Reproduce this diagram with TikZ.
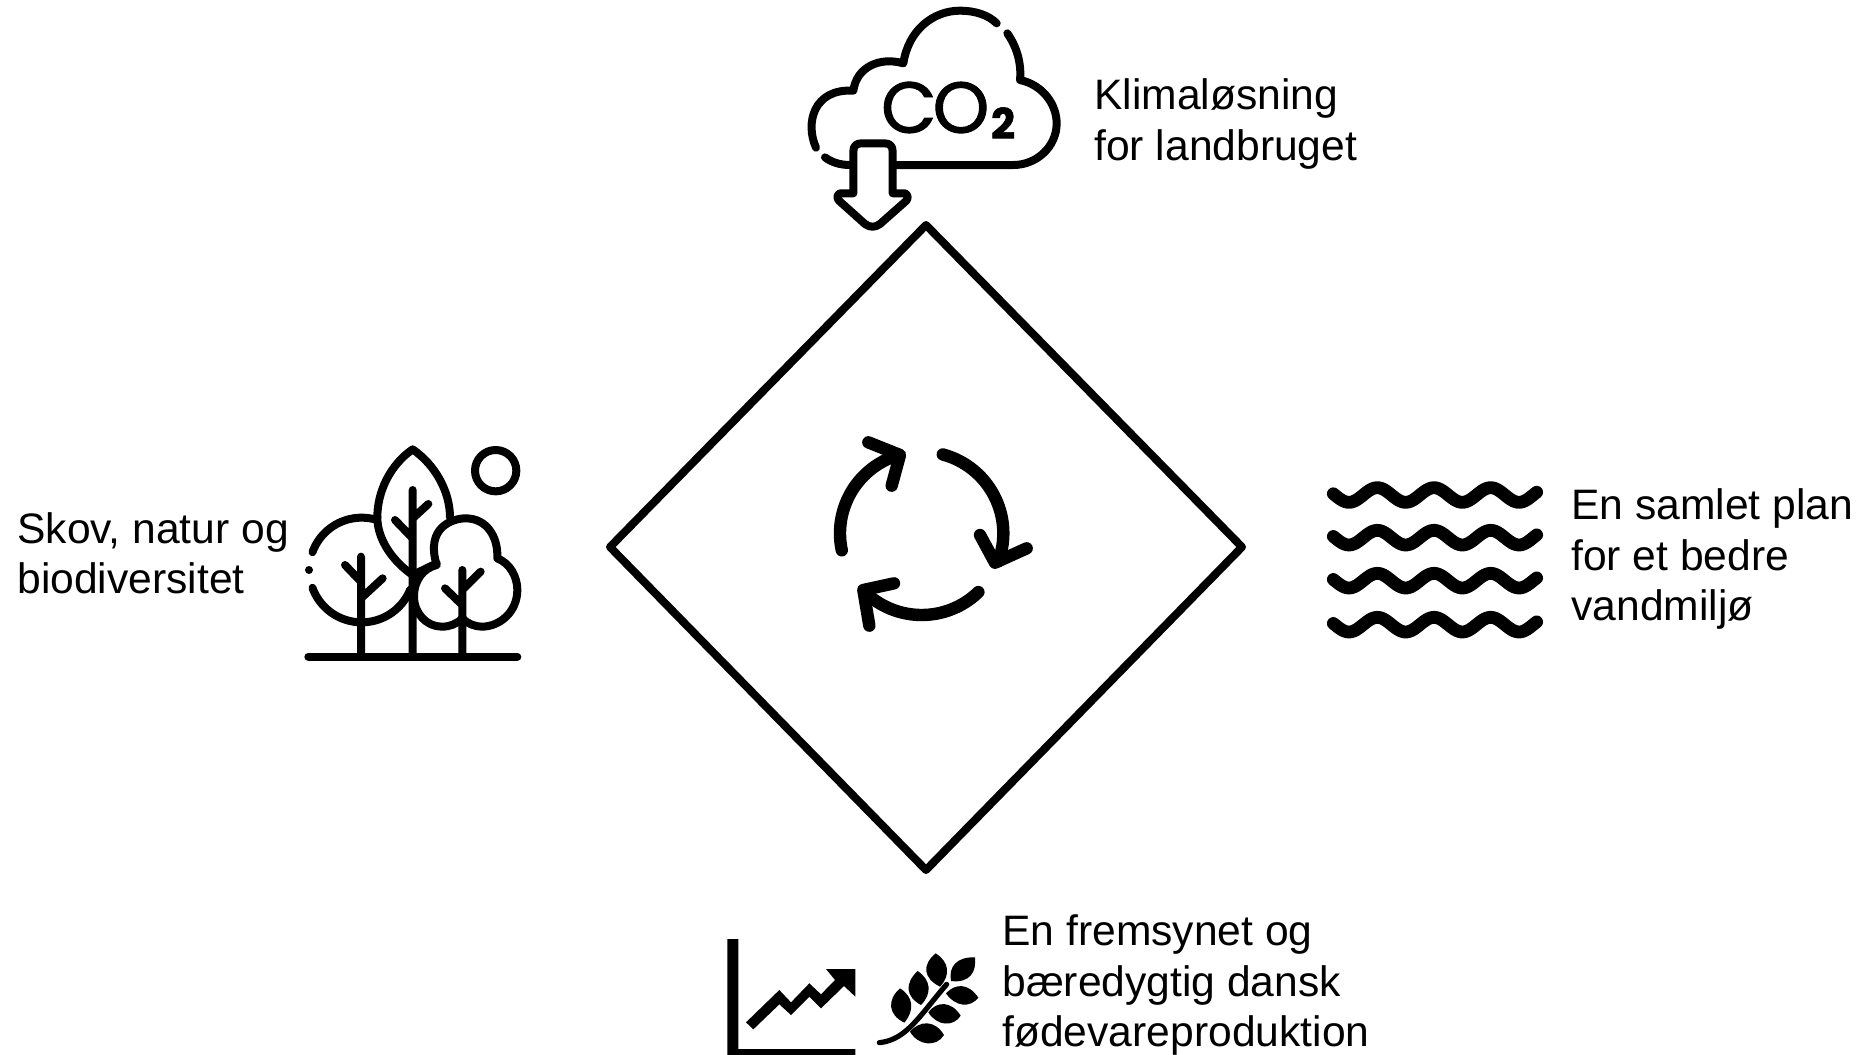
\documentclass[tikz,border=0pt]{standalone}
\usepackage{fontspec}
\setmainfont{Liberation Sans}
\newfontfamily\iconfont[FakeBold=1.3]{Poppins}
\begin{document}
\begin{tikzpicture}[x=0.5pt,y=-0.5pt,
  lbl/.style={anchor=west,align=left,inner sep=0pt,font=\fontsize{21.3}{25.1}\selectfont,text=black},
  icon/.style={line width=4pt,line cap=round,line join=round,black},
  thick icon/.style={line width=6.2pt,line cap=round,line join=round,black},
  wave/.style={line width=6.4pt,line cap=round,line join=round,black},
  leafy/.style={fill=black,draw=none}]
\useasboundingbox (0,0) rectangle (1859,1055);
% diamond
\coordinate (dt) at (926,225);
\coordinate (dr) at (1242,547);
\coordinate (db) at (926,870);
\coordinate (dl) at (610,547);
\draw[line width=4pt,line join=round,black] (dt)--(dr)--(db)--(dl)--cycle;
% labels
\node[lbl] (klima) at (1094,124) {Klimaløsning\\for landbruget};
\node[lbl] (skov) at (17,553) {Skov, natur og\\biodiversitet};
\node[lbl] (vand) at (1571,559) {En samlet plan\\for et bedre\\vandmiljø};
\node[lbl] (foed) at (1002,985) {En fremsynet og\\bæredygtig dansk\\fødevareproduktion};
% cloud icon
\begin{scope}[shift={(780,0)},scale=0.33333]
\draw[icon]
  (108,443) .. controls (75,370) and (100,265) .. (220,272)
  .. controls (230,200) and (300,170) .. (370,190)
  .. controls (385,90) and (460,32) .. (540,32)
  .. controls (585,32) and (625,45) .. (650,70);
\draw[icon]
  (682,100) .. controls (710,140) and (725,190) .. (720,240)
  .. controls (790,255) and (830,315) .. (830,370)
  .. controls (830,440) and (770,495) .. (700,495) -- (345,495);
\draw[icon]
  (210,495) .. controls (180,495) and (155,487) .. (135,472);
\draw[icon]
  (220,580) -- (220,455) .. controls (220,438) and (228,430) .. (245,430)
  -- (313,430) .. controls (330,430) and (338,438) .. (338,455) -- (338,580)
  -- (375,580) .. controls (385,585) and (385,595) .. (378,603)
  -- (300,672) .. controls (285,683) and (270,683) .. (255,672)
  -- (178,603) .. controls (170,595) and (170,585) .. (180,580) -- cycle;
\node[inner sep=0pt,anchor=base west,font=\iconfont\fontsize{36}{36}\selectfont] (co) at (302,398) {C\kern-2pt O};
\node[inner sep=0pt,anchor=base west,font=\iconfont\bfseries\fontsize{21}{21}\selectfont] (two) at (632,416) {2};
\end{scope}
% trees
\begin{scope}[shift={(290,430)},scale=0.33333,samples=40]
\draw[icon] (55,680) -- (682,680);
\draw[icon] (213,380) -- (213,680) (165,405) -- (213,455) (278,445) -- (213,505);
\draw[icon] (368,180) -- (368,680) (315,270) -- (368,325) (415,222) -- (368,265);
\draw[icon] (517,420) -- (517,680) (465,475) -- (517,525) (572,425) -- (517,480);
\draw[icon,domain=160:73] plot ({215+157*cos(\x)},{420-157*sin(\x)});
\draw[icon,domain=200:338] plot ({215+157*cos(\x)},{420-157*sin(\x)});
\draw[icon] (262,262) .. controls (262,185) and (300,105) .. (368,58)
  .. controls (436,105) and (480,185) .. (480,262);
\draw[icon] (262,262) .. controls (262,330) and (310,395) .. (368,435) -- (440,400);
\draw[icon] (440,405) .. controls (405,290) and (490,265) .. (527,265)
  .. controls (590,265) and (625,320) .. (622,385)
  .. controls (660,400) and (682,440) .. (682,480)
  .. controls (682,545) and (630,590) .. (575,590)
  .. controls (555,590) and (530,580) .. (517,565)
  .. controls (500,582) and (480,590) .. (455,590)
  .. controls (410,590) and (372,550) .. (372,500)
  .. controls (372,450) and (400,415) .. (440,405);
\draw[icon] (617,122) circle[radius=62];
\fill[black] (57,420) circle[radius=12];
\end{scope}
% cycle
\begin{scope}[shift={(820,420)},scale=0.33333,samples=40]
\draw[thick icon,domain=192:106] plot ({305+245*cos(\x)},{340-245*sin(\x)});
\draw[thick icon] (145,67) -- (240,105) -- (215,197);
\draw[thick icon,domain=75:-20] plot ({305+245*cos(\x)},{340-245*sin(\x)});
\draw[thick icon] (480,345) -- (525,428) -- (620,385);
\draw[thick icon,domain=-46:-135] plot ({305+245*cos(\x)},{340-245*sin(\x)});
\draw[thick icon] (222,490) -- (130,510) -- (148,617);
\end{scope}
% waves
\begin{scope}[shift={(1320,470)},scale=0.33333,samples=90]
\foreach \yc in {75,203,332,464}{
  \draw[wave,domain=40:650] plot (\x,{\yc+22*cos(2.1176*(\x-87))});
}
\end{scope}
% chart and wheat
\begin{scope}[shift={(720,925)},scale=0.33333]
\fill[black] (22,42) -- (55,42) -- (55,372) -- (406,372) -- (406,390) -- (22,390) -- cycle;
\fill[black] (78,292) -- (178,195) -- (213,232) -- (268,175) -- (303,208) -- (345,165)
  -- (318,132) -- (406,132) -- (406,215) -- (372,183) -- (303,250) -- (268,215)
  -- (213,270) -- (178,238) -- (100,313) -- cycle;
\fill[leafy] (540,190) .. controls (500,225) and (505,270) .. (553,293) .. controls (585,255) and (580,215) .. (540,190);
\fill[leafy] (593,138) .. controls (553,175) and (557,215) .. (603,240) .. controls (637,205) and (633,165) .. (593,138);
\fill[leafy] (647,85) .. controls (605,120) and (610,160) .. (660,185) .. controls (693,150) and (687,110) .. (647,85);
\fill[leafy] (765,97) .. controls (710,95) and (685,125) .. (693,168) .. controls (750,175) and (770,140) .. (765,97);
\fill[leafy] (775,218) .. controls (745,173) and (705,175) .. (678,205) .. controls (705,245) and (750,250) .. (775,218);
\fill[leafy] (722,272) .. controls (695,228) and (650,227) .. (625,262) .. controls (650,303) and (700,307) .. (722,272);
\fill[leafy] (672,330) .. controls (645,285) and (600,285) .. (570,320) .. controls (595,363) and (650,367) .. (672,330);
\draw[line width=2.6pt,line cap=round,black] (478,353) .. controls (560,345) and (600,270) .. (680,178);
\end{scope}
\end{tikzpicture}
\end{document}
